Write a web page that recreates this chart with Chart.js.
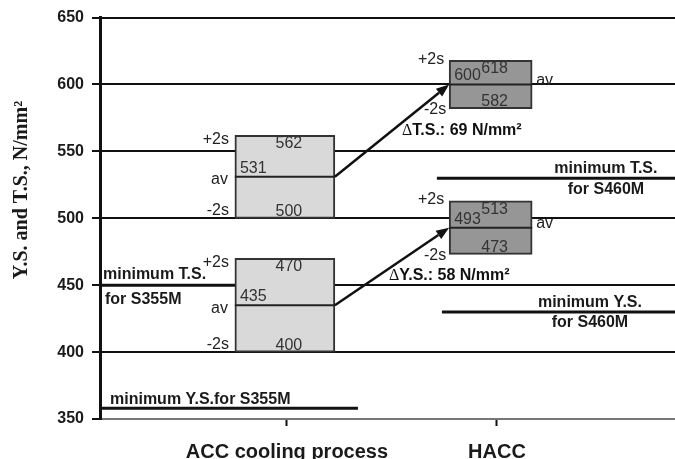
<!DOCTYPE html>
<html>
<head>
<meta charset="utf-8">
<script src="https://cdn.jsdelivr.net/npm/chart.js@4/dist/chart.umd.min.js"></script>
<style>
  html, body { margin: 0; padding: 0; background: #fff; }
  canvas { display: block; }
</style>
</head>
<body>
<canvas id="chart" width="675" height="459"></canvas>
<script>
// ---- data ----
const categories = ['ACC cooling process', 'HACC'];
const yTickValues = [350, 400, 450, 500, 550, 600, 650];

// tensile strength (T.S.): -2s / average / +2s, N/mm²
const tsLow  = [500, 582];
const tsAvg  = [531, 600];
const tsHigh = [562, 618];

// yield strength (Y.S.): -2s / average / +2s, N/mm²
const ysLow  = [400, 473];
const ysAvg  = [435, 493];
const ysHigh = [470, 513];

// gain in average strength from ACC to HACC, N/mm²
const deltaTS = 69;
const deltaYS = 58;

// required minimum strengths
const minStrengthValues = [450, 358, 530, 430];
const minStrengthLabels = [
  ['minimum T.S.', 'for S355M'],
  ['minimum Y.S.for S355M'],
  ['minimum T.S.', 'for S460M'],
  ['minimum Y.S.', 'for S460M']
];

// ---- layout ----
const X_MIN = 0.1095, X_MAX = 2.848;
const boxCenter = [0.99, 1.97];
const boxWidth = [100, 83];
const boxFill = ['#d9d9d9', '#969696'];
const minSpans = [[X_MIN, 0.752], [X_MIN, 1.338], [1.714, X_MAX], [1.738, X_MAX]];
const SANS = '"Liberation Sans", Arial, Helvetica, sans-serif';
const SERIF = '"Liberation Serif", "Times New Roman", serif';

function boxDataset(label, i, low, high) {
  return {
    type: 'bar',
    label: label,
    data: [{ x: boxCenter[i], y: [low[i], high[i]] }],
    grouped: false,
    barThickness: boxWidth[i],
    backgroundColor: boxFill[i],
    borderColor: '#333',
    borderWidth: 2,
    borderSkipped: false,
    order: 2
  };
}

function minDataset(i) {
  return {
    type: 'line',
    label: minStrengthLabels[i].join(' '),
    data: [{ x: minSpans[i][0], y: minStrengthValues[i] }, { x: minSpans[i][1], y: minStrengthValues[i] }],
    borderColor: '#111',
    borderWidth: 3,
    pointRadius: 0,
    fill: false,
    order: 1
  };
}

const datasets = [
  boxDataset('T.S. ACC', 0, tsLow, tsHigh),
  boxDataset('T.S. HACC', 1, tsLow, tsHigh),
  boxDataset('Y.S. ACC', 0, ysLow, ysHigh),
  boxDataset('Y.S. HACC', 1, ysLow, ysHigh),
  minDataset(0), minDataset(1), minDataset(2), minDataset(3)
];

// averages, +/-2s marks, value labels, arrows and captions
const annotate = {
  id: 'annotate',
  afterDatasetsDraw(chart) {
    const ctx = chart.ctx;
    const xs = chart.scales.x, ys = chart.scales.y;
    const area = chart.chartArea;

    const box = (ds) => {
      const el = chart.getDatasetMeta(ds).data[0];
      return { l: el.x - el.width / 2, r: el.x + el.width / 2, c: el.x };
    };
    const groups = [
      { ds: 0, i: 0, low: tsLow, av: tsAvg, high: tsHigh },
      { ds: 1, i: 1, low: tsLow, av: tsAvg, high: tsHigh },
      { ds: 2, i: 0, low: ysLow, av: ysAvg, high: ysHigh },
      { ds: 3, i: 1, low: ysLow, av: ysAvg, high: ysHigh }
    ];

    ctx.save();
    groups.forEach(g => {
      const b = box(g.ds);
      const yTop = ys.getPixelForValue(g.high[g.i]);
      const yAv = ys.getPixelForValue(g.av[g.i]);
      const yBot = ys.getPixelForValue(g.low[g.i]);

      // average line across the box
      ctx.strokeStyle = '#222';
      ctx.lineWidth = 2;
      ctx.beginPath();
      ctx.moveTo(b.l, yAv);
      ctx.lineTo(b.r, yAv);
      ctx.stroke();

      // values
      ctx.font = '16px ' + SANS;
      ctx.fillStyle = '#333';
      ctx.textBaseline = 'middle';
      ctx.textAlign = 'center';
      ctx.fillText(String(g.high[g.i]), b.c + 4, yTop + 8.5);
      ctx.fillText(String(g.low[g.i]), b.c + 4, yBot - 7);
      ctx.textAlign = 'left';
      ctx.fillText(String(g.av[g.i]), b.l + 5, yAv - 8.5);

      // +2s / av / -2s marks
      ctx.fillStyle = '#222';
      if (g.i === 0) {
        ctx.textAlign = 'right';
        ctx.fillText('+2s', b.l - 6, yTop + 4);
        ctx.fillText('av', b.l - 7, yAv + 3);
        ctx.fillText('-2s', b.l - 6, yBot - 8);
      } else {
        ctx.textAlign = 'right';
        ctx.fillText('+2s', b.l - 5, yTop - 1);
        ctx.textAlign = 'center';
        ctx.fillText('-2s', b.l - 14, yBot + 1);
        ctx.textAlign = 'left';
        ctx.fillText('av', b.r + 4, yAv - 4);
      }
    });

    // arrows from ACC average to HACC average, with the gain caption
    const arrows = [
      { from: 0, to: 1, av: tsAvg, name: 'T.S.', delta: deltaTS, dx: 10, dy: 0 },
      { from: 2, to: 3, av: ysAvg, name: 'Y.S.', delta: deltaYS, dx: -3, dy: 9 }
    ];
    arrows.forEach(a => {
      const x0 = box(a.from).r, y0 = ys.getPixelForValue(a.av[0]);
      const x1 = box(a.to).l, y1 = ys.getPixelForValue(a.av[1]);
      const ang = Math.atan2(y1 - y0, x1 - x0);
      const head = 13, half = 5;
      const bx = x1 - head * Math.cos(ang), by = y1 - head * Math.sin(ang);
      ctx.strokeStyle = '#111';
      ctx.lineWidth = 2.5;
      ctx.beginPath();
      ctx.moveTo(x0, y0);
      ctx.lineTo(bx, by);
      ctx.stroke();
      ctx.fillStyle = '#111';
      ctx.beginPath();
      ctx.moveTo(x1, y1);
      ctx.lineTo(bx + half * Math.sin(ang), by - half * Math.cos(ang));
      ctx.lineTo(bx - half * Math.sin(ang), by + half * Math.cos(ang));
      ctx.closePath();
      ctx.fill();

      const mx = (x0 + x1) / 2 + a.dx, my = (y0 + y1) / 2 + a.dy;
      ctx.textAlign = 'left';
      ctx.textBaseline = 'middle';
      ctx.font = '16px ' + SERIF;
      ctx.fillText('\u0394', mx, my);
      const w = ctx.measureText('\u0394').width;
      ctx.font = 'bold 16px ' + SANS;
      ctx.fillText(a.name + ': ' + a.delta + ' N/mm\u00B2', mx + w, my);
    });

    // captions of the minimum strength lines
    ctx.fillStyle = '#1a1a1a';
    ctx.font = 'bold 16px ' + SANS;
    ctx.textBaseline = 'middle';
    let v = ys.getPixelForValue(minStrengthValues[0]);
    ctx.textAlign = 'left';
    ctx.fillText(minStrengthLabels[0][0], area.left + 3, v - 11);
    ctx.fillText(minStrengthLabels[0][1], area.left + 5, v + 14);
    v = ys.getPixelForValue(minStrengthValues[1]);
    ctx.fillText(minStrengthLabels[1][0], area.left + 10, v - 9);
    ctx.textAlign = 'center';
    v = ys.getPixelForValue(minStrengthValues[2]);
    let cx = xs.getPixelForValue(2.519);
    ctx.fillText(minStrengthLabels[2][0], cx, v - 10);
    ctx.fillText(minStrengthLabels[2][1], cx, v + 11);
    v = ys.getPixelForValue(minStrengthValues[3]);
    cx = xs.getPixelForValue(2.443);
    ctx.fillText(minStrengthLabels[3][0], cx, v - 9.5);
    ctx.fillText(minStrengthLabels[3][1], cx, v + 10.5);

    // y axis title
    ctx.save();
    ctx.translate(22, 190);
    ctx.rotate(-Math.PI / 2);
    ctx.textAlign = 'center';
    ctx.textBaseline = 'middle';
    ctx.fillStyle = '#1a1a1a';
    ctx.font = 'bold 20px ' + SERIF;
    ctx.fillText('Y.S. and T.S., N/mm\u00B2', 0, 0);
    ctx.restore();

    ctx.restore();
  }
};

new Chart(document.getElementById('chart'), {
  type: 'bar',
  data: { datasets: datasets },
  options: {
    responsive: false,
    animation: false,
    devicePixelRatio: 1,
    layout: { padding: { top: 16, right: 0, left: 0, bottom: 0 } },
    plugins: { legend: { display: false }, tooltip: { enabled: false } },
    scales: {
      x: {
        type: 'linear',
        min: X_MIN,
        max: X_MAX,
        offset: false,
        afterBuildTicks: (s) => { s.ticks = categories.map((c, i) => ({ value: i + 1 })); },
        afterFit: (s) => { s.height = 40; },
        ticks: {
          autoSkip: false,
          maxRotation: 0,
          padding: 14,
          color: '#1a1a1a',
          font: { family: SANS, size: 20, weight: 'bold' },
          callback: (val) => categories[Math.round(val) - 1]
        },
        grid: { offset: false, drawOnChartArea: false, tickLength: 7, tickColor: '#111', tickWidth: 2 },
        border: { color: '#777', width: 2 }
      },
      y: {
        min: 350,
        max: 650,
        afterBuildTicks: (s) => { s.ticks = yTickValues.map(v => ({ value: v })); },
        afterFit: (s) => { s.width = 100; },
        ticks: {
          padding: 8,
          color: '#1a1a1a',
          font: { family: SANS, size: 16, weight: 'bold' }
        },
        grid: {
          color: (c) => (c.tick && c.tick.value === 350 ? '#777' : '#111'),
          lineWidth: 2,
          tickLength: 8,
          tickColor: '#111',
          tickWidth: 2
        },
        border: { color: '#111', width: 3 }
      }
    }
  },
  plugins: [annotate]
});
</script>
</body>
</html>
